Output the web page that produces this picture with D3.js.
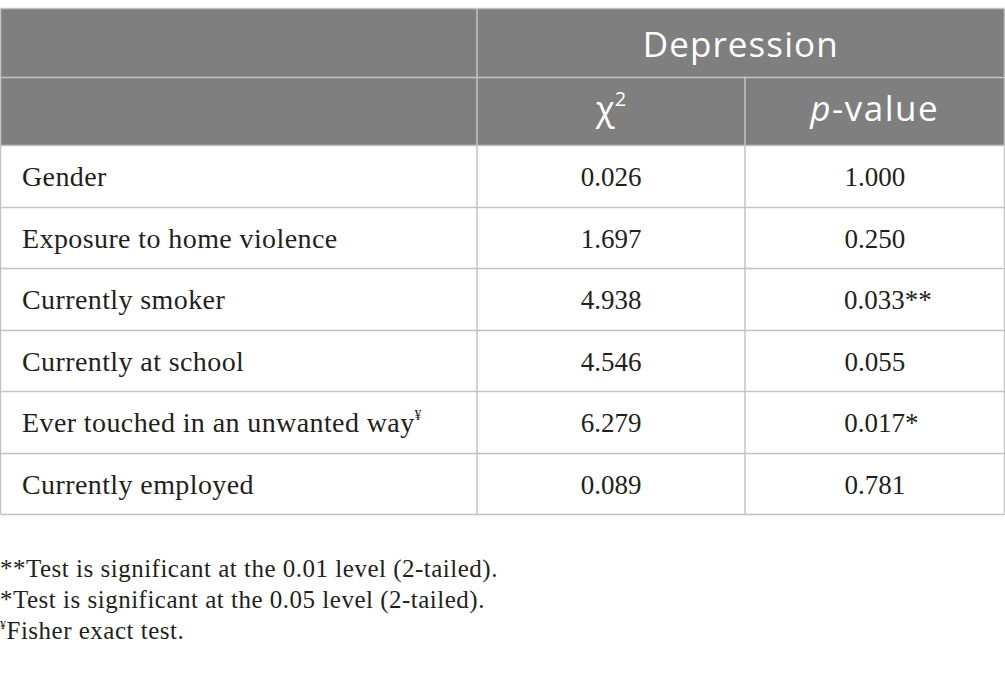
<!DOCTYPE html>
<html>
<head>
<meta charset="utf-8">
<script src="https://cdn.jsdelivr.net/npm/d3@7"></script>
<style>
  body { margin: 0; background: #fff; }
  svg { display: block; }
</style>
</head>
<body>
<svg id="canvas"></svg>
<script>
"use strict";

// table content
const rowLabels = ["Gender", "Exposure to home violence", "Currently smoker",
    "Currently at school", "Ever touched in an unwanted way", "Currently employed"];
const labelMarks = ["", "", "", "", "¥", ""];
const chiValues = ["0.026", "1.697", "4.938", "4.546", "6.279", "0.089"];
const pValues = ["1.000", "0.250", "0.033**", "0.055", "0.017*", "0.781"];
const groupTitle = "Depression";
const footnotes = [
    {mark: "", text: "**Test is significant at the 0.01 level (2-tailed)."},
    {mark: "", text: "*Test is significant at the 0.05 level (2-tailed)."},
    {mark: "¥", text: "Fisher exact test."}
];

let width = 1005;
let height = 696;

let tableTop = 8;
let headRow = 68.5;
let colEdges = [0.5, 477, 745, 1004.5];
let lineColor = "#c3c3c3";
let headFill = "#7f7f7f";
let serif = "'Liberation Serif', 'DejaVu Serif', serif";
let sans = "'Open Sans', 'Noto Sans', sans-serif";

let canvas = d3.select('#canvas')
    .attr('width', width)
    .attr('height', height);

let bodyTop = tableTop + 2 * headRow;

let yScale = d3.scaleBand()
    .domain(d3.range(rowLabels.length))
    .range([bodyTop, bodyTop + 61.5 * rowLabels.length]);

let tableBottom = yScale.range()[1];

let colCenter = (i) => (colEdges[i] + colEdges[i + 1]) / 2;

// header background
canvas.append('rect')
    .attr('x', colEdges[0])
    .attr('y', tableTop)
    .attr('width', colEdges[3] - colEdges[0])
    .attr('height', 2 * headRow)
    .attr('fill', headFill);

// header text
canvas.append('text')
    .attr('x', (colEdges[1] + colEdges[3]) / 2)
    .attr('y', tableTop + headRow / 2 + 15)
    .attr('text-anchor', 'middle')
    .attr('font-family', sans)
    .attr('font-size', 35)
    .attr('letter-spacing', 1.1)
    .attr('fill', '#fff')
    .text(groupTitle);

let chiHead = canvas.append('text')
    .attr('x', colCenter(1))
    .attr('y', tableTop + headRow * 1.5 + 10)
    .attr('text-anchor', 'middle')
    .attr('font-family', sans)
    .attr('font-size', 35)
    .attr('fill', '#fff');
chiHead.append('tspan').text('χ');
chiHead.append('tspan').attr('font-size', 20).attr('dy', -15).text('2');

let pHead = canvas.append('text')
    .attr('x', colCenter(2))
    .attr('y', tableTop + headRow * 1.5 + 10)
    .attr('text-anchor', 'middle')
    .attr('font-family', sans)
    .attr('font-size', 35)
    .attr('letter-spacing', 1.5)
    .attr('fill', '#fff');
pHead.append('tspan').attr('font-style', 'italic').text('p');
pHead.append('tspan').text('-value');

// body rows
let rows = canvas.selectAll('g.row')
    .data(rowLabels)
    .enter()
    .append('g')
    .attr('class', 'row')
    .attr('transform', (d, i) => 'translate(0,' + yScale(i) + ')');

let baseY = yScale.bandwidth() / 2 + 10.5;

let labels = rows.append('text')
    .attr('x', 22)
    .attr('y', baseY)
    .attr('font-family', serif)
    .attr('font-size', 28)
    .attr('letter-spacing', 0.4)
    .attr('fill', '#231f20');
labels.append('tspan').text((d) => d);
labels.append('tspan')
    .attr('font-size', 14)
    .attr('dy', -12)
    .text((d, i) => labelMarks[i]);

rows.append('text')
    .attr('x', colCenter(1))
    .attr('y', baseY)
    .attr('text-anchor', 'middle')
    .attr('font-family', serif)
    .attr('font-size', 27)
    .attr('fill', '#231f20')
    .text((d, i) => chiValues[i]);

rows.append('text')
    .attr('x', (d, i) => colCenter(2) + (pValues[i].length - pValues[i].replace(/\*/g, '').length) * 6.5)
    .attr('y', baseY)
    .attr('text-anchor', 'middle')
    .attr('font-family', serif)
    .attr('font-size', 27)
    .attr('fill', '#231f20')
    .text((d, i) => pValues[i]);

// grid lines
let hLines = [tableTop, tableTop + headRow].concat(yScale.domain().map((i) => yScale(i))).concat([tableBottom]);
canvas.selectAll('line.h')
    .data(hLines)
    .enter()
    .append('line')
    .attr('class', 'h')
    .attr('x1', colEdges[0])
    .attr('x2', colEdges[3])
    .attr('y1', (d) => Math.round(d) + 0.5)
    .attr('y2', (d) => Math.round(d) + 0.5)
    .attr('stroke', lineColor)
    .attr('stroke-width', 1.5);

let vLines = [
    {x: colEdges[0], y1: tableTop, y2: tableBottom},
    {x: colEdges[1], y1: tableTop, y2: tableBottom},
    {x: colEdges[2], y1: tableTop + headRow, y2: tableBottom},
    {x: colEdges[3], y1: tableTop, y2: tableBottom}
];
canvas.selectAll('line.v')
    .data(vLines)
    .enter()
    .append('line')
    .attr('class', 'v')
    .attr('x1', (d) => d.x)
    .attr('x2', (d) => d.x)
    .attr('y1', (d) => d.y1)
    .attr('y2', (d) => d.y2)
    .attr('stroke', lineColor)
    .attr('stroke-width', 1.5);

// footnotes
let notes = canvas.selectAll('text.note')
    .data(footnotes)
    .enter()
    .append('text')
    .attr('class', 'note')
    .attr('x', 0)
    .attr('y', (d, i) => 577 + i * 31)
    .attr('font-family', serif)
    .attr('font-size', 25)
    .attr('letter-spacing', 0.5)
    .attr('fill', '#231f20');
notes.append('tspan')
    .attr('font-size', 12)
    .attr('dy', -10)
    .text((d) => d.mark);
notes.append('tspan')
    .attr('dy', (d) => d.mark ? 10 : 0)
    .text((d) => d.text);
</script>
</body>
</html>
